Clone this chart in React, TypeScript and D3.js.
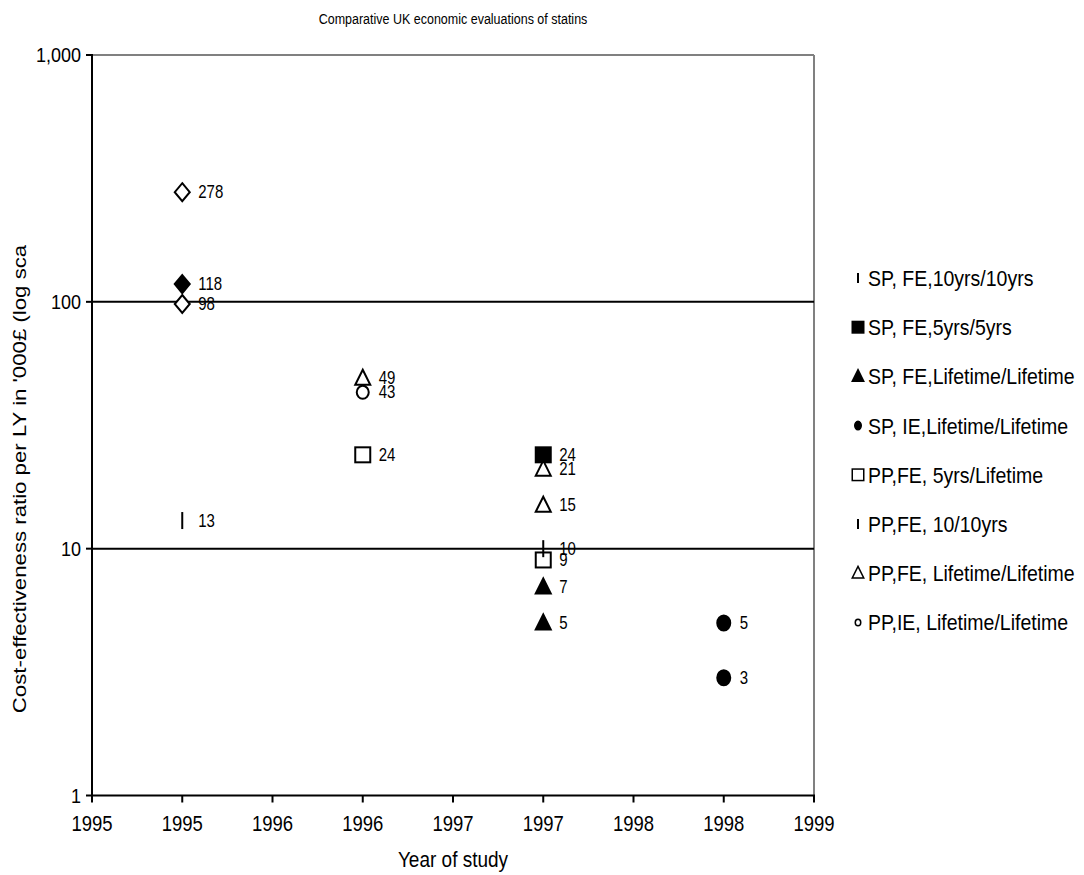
import React from 'react';
import * as d3 from 'd3';

// axis ticks (Excel shows half-year ticks rounded down)
const xTickValues = [1995, 1995.5, 1996, 1996.5, 1997, 1997.5, 1998, 1998.5, 1999];
const xTickLabels = ['1995', '1995', '1996', '1996', '1997', '1997', '1998', '1998', '1999'];
const yTickValues = [1, 10, 100, 1000];
const yTickLabels = ['1', '10', '100', '1,000'];

// series: year of study / cost-effectiveness ratio ('000 £ per LY)
const spFe10yrs = [{ year: 1995.5, value: 13 }];
const spFe5yrs = [{ year: 1997.5, value: 24 }];
const spFeLifetime = [{ year: 1997.5, value: 7 }, { year: 1997.5, value: 5 }];
const spIeLifetime = [{ year: 1998.5, value: 5 }, { year: 1998.5, value: 3 }];
const ppFe5yrsLifetime = [{ year: 1996.5, value: 24 }, { year: 1997.5, value: 9 }];
const ppFe10yrs = [{ year: 1997.5, value: 10 }];
const ppFeLifetime = [{ year: 1996.5, value: 49 }, { year: 1997.5, value: 21 }, { year: 1997.5, value: 15 }];
const ppIeLifetime = [{ year: 1996.5, value: 43 }];
const openDiamonds = [{ year: 1995.5, value: 278 }, { year: 1995.5, value: 98 }];
const filledDiamonds = [{ year: 1995.5, value: 118 }];

type Shape = 'bar' | 'square' | 'triangle' | 'circle' | 'diamond';

const series = [
  { name: 'SP, FE,10yrs/10yrs', data: spFe10yrs, shape: 'bar' as Shape, filled: true, legend: true },
  { name: 'SP, FE,5yrs/5yrs', data: spFe5yrs, shape: 'square' as Shape, filled: true, legend: true },
  { name: 'SP, FE,Lifetime/Lifetime', data: spFeLifetime, shape: 'triangle' as Shape, filled: true, legend: true },
  { name: 'SP, IE,Lifetime/Lifetime', data: spIeLifetime, shape: 'circle' as Shape, filled: true, legend: true },
  { name: 'PP,FE, 5yrs/Lifetime', data: ppFe5yrsLifetime, shape: 'square' as Shape, filled: false, legend: true },
  { name: 'PP,FE, 10/10yrs', data: ppFe10yrs, shape: 'bar' as Shape, filled: true, legend: true },
  { name: 'PP,FE, Lifetime/Lifetime', data: ppFeLifetime, shape: 'triangle' as Shape, filled: false, legend: true },
  { name: 'PP,IE, Lifetime/Lifetime', data: ppIeLifetime, shape: 'circle' as Shape, filled: false, legend: true },
  { name: 'diamond open', data: openDiamonds, shape: 'diamond' as Shape, filled: false, legend: false },
  { name: 'diamond filled', data: filledDiamonds, shape: 'diamond' as Shape, filled: true, legend: false },
];

const width = 1084;
const height = 875;
const margin = { top: 55, right: 270, bottom: 79, left: 92 };
const font = 'Arial, "Liberation Sans", sans-serif';
const k = 1.17; // the original picture is a bit stretched vertically

function Txt({ x, y, size, anchor, children }: { x: number; y: number; size: number; anchor?: string; children: React.ReactNode }) {
  return (
    <text transform={`translate(${x},${y}) scale(1,${k})`} fontSize={size} textAnchor={anchor || 'start'} dy="0.35em">
      {children}
    </text>
  );
}

function Marker({ shape, filled, x, y, s, sw = 2 }: { shape: Shape; filled: boolean; x: number; y: number; s: number; sw?: number }) {
  const fill = filled ? '#000' : '#fff';
  if (shape === 'bar') {
    return <rect x={x - 1} y={y - s / 2} width={2} height={s} fill="#000" />;
  }
  if (shape === 'square') {
    const h = s / 2 - sw / 2;
    return <rect x={x - h} y={y - h} width={h * 2} height={h * 2} fill={fill} stroke="#000" strokeWidth={sw} />;
  }
  if (shape === 'triangle') {
    const h = s / 2 - sw / 2;
    const p = d3.path();
    p.moveTo(x, y - h - 1);
    p.lineTo(x + h, y + h - 1);
    p.lineTo(x - h, y + h - 1);
    p.closePath();
    return <path d={p.toString()} fill={fill} stroke="#000" strokeWidth={sw} />;
  }
  if (shape === 'circle') {
    const rx = (filled ? s / 2 - 1 : s / 2 - 1.5) - sw / 2;
    const ry = (filled ? s / 2 : s / 2 - 1) - sw / 2;
    return <ellipse cx={x} cy={y} rx={rx} ry={ry} fill={fill} stroke="#000" strokeWidth={sw} />;
  }
  const h = s / 2;
  const p = d3.path();
  p.moveTo(x, y - h - 0.5);
  p.lineTo(x + h - 1, y);
  p.lineTo(x, y + h + 0.5);
  p.lineTo(x - h + 1, y);
  p.closePath();
  return <path d={p.toString()} fill={fill} stroke="#000" strokeWidth={sw} />;
}

export default function App() {
  const x = d3.scaleLinear().domain([1995, 1999]).range([margin.left, width - margin.right]);
  const y = d3.scaleLog().domain([1, 1000]).range([height - margin.bottom - 0.5, margin.top]);
  const x0 = x(1995);
  const x1 = x(1999);
  const yBottom = y(1);
  const yTop = y(1000);

  return (
    <svg width={width} height={height} style={{ position: 'absolute', left: 0, top: 0 }} fontFamily={font}>
      <rect x={0} y={0} width={width} height={height} fill="#fff" />
      <Txt x={(x0 + x1) / 2} y={19} size={12.5} anchor="middle">
        Comparative UK economic evaluations of statins
      </Txt>

      {/* plot border (top/right grey) */}
      <line x1={x0} x2={x1} y1={yTop} y2={yTop} stroke="#808080" strokeWidth={2} />
      <line x1={x1} x2={x1} y1={yTop} y2={yBottom} stroke="#808080" strokeWidth={2} />

      {/* gridlines at 10 and 100 */}
      {yTickValues.filter(v => v > 1 && v < 1000).map(v => (
        <line key={'g' + v} x1={x0} x2={x1} y1={y(v)} y2={y(v)} stroke="#000" strokeWidth={2} />
      ))}

      {/* y axis */}
      <line x1={x0} x2={x0} y1={yTop - 1} y2={yBottom + 1} stroke="#000" strokeWidth={2} />
      {yTickValues.map((v, i) => (
        <g key={'yt' + v}>
          <line x1={x0 - 6} x2={x0} y1={y(v)} y2={y(v)} stroke="#000" strokeWidth={2} />
          <Txt x={x0 - 11} y={y(v)} size={18} anchor="end">{yTickLabels[i]}</Txt>
        </g>
      ))}

      {/* x axis */}
      <line x1={x0 - 1} x2={x1 + 1} y1={yBottom} y2={yBottom} stroke="#000" strokeWidth={2} />
      {xTickValues.map((v, i) => (
        <g key={'xt' + i}>
          <line x1={x(v)} x2={x(v)} y1={yBottom} y2={yBottom + 7} stroke="#000" strokeWidth={2} />
          <Txt x={x(v)} y={823} size={18.5} anchor="middle">{xTickLabels[i]}</Txt>
        </g>
      ))}
      <Txt x={(x0 + x1) / 2} y={859} size={19} anchor="middle">Year of study</Txt>
      <text transform={`translate(19,479) rotate(-90) scale(${k},1)`} textAnchor="middle" fontSize={19} dy="0.35em">
        Cost-effectiveness ratio per LY in '000£ (log sca
      </text>

      {/* markers and value labels */}
      {series.map(s => (
        <g key={s.name}>
          {s.data.map((d, j) => (
            <g key={j}>
              <Marker shape={s.shape} filled={s.filled} x={x(d.year)} y={y(d.value)} s={17} />
              <Txt x={x(d.year) + 16} y={y(d.value)} size={15}>{d.value}</Txt>
            </g>
          ))}
        </g>
      ))}

      {/* legend */}
      {series.filter(s => s.legend).map((s, i) => {
        const ly = 278 + i * 49.2;
        const ms = s.shape === 'circle' ? 10 : s.shape === 'bar' ? 10 : 13;
        return (
          <g key={'lg' + i}>
            <Marker shape={s.shape} filled={s.filled} x={858} y={ly} s={ms} sw={1.5} />
            <Txt x={868} y={ly} size={19.5}>{s.name}</Txt>
          </g>
        );
      })}
    </svg>
  );
}
